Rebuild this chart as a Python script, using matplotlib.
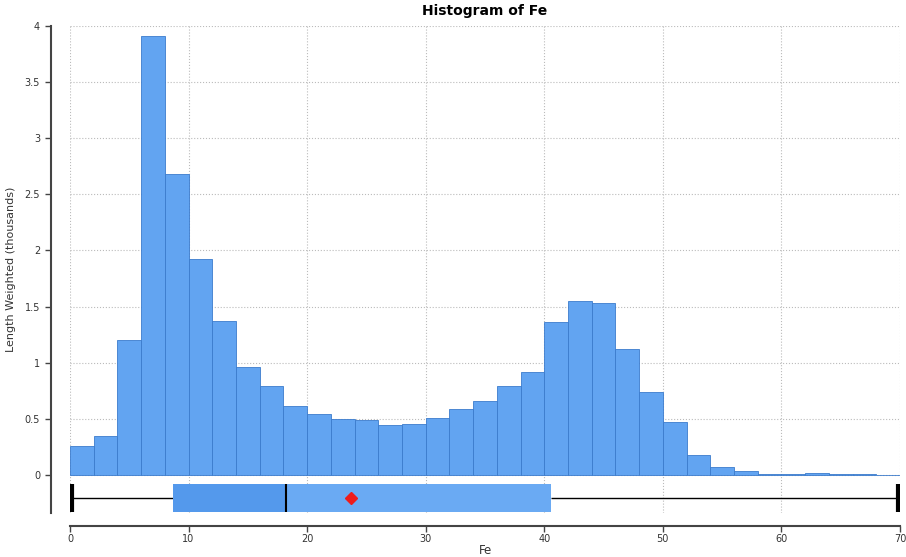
import numpy as np
import matplotlib
matplotlib.use("Agg")
import matplotlib.pyplot as plt

# Histogram data (Fe, bins of width 2, values in thousands)
bin_left = [0, 2, 4, 6, 8, 10, 12, 14, 16, 18, 20, 22, 24, 26, 28, 30, 32, 34,
            36, 38, 40, 42, 44, 46, 48, 50, 52, 54, 56, 58, 60, 62, 64, 66, 68]
bin_width = 2
counts = [0.26, 0.35, 1.20, 3.91, 2.68, 1.92, 1.37, 0.96, 0.79, 0.61, 0.54, 0.50,
          0.49, 0.44, 0.45, 0.51, 0.59, 0.66, 0.79, 0.92, 1.36, 1.55, 1.53, 1.12,
          0.74, 0.47, 0.18, 0.07, 0.03, 0.012, 0.012, 0.015, 0.01, 0.005, 0.003]

# Box plot summary
fe_min = 0.2
fe_q1 = 8.7
fe_median = 18.2
fe_q3 = 40.6
fe_max = 69.8
fe_mean = 23.7

xticks = [0, 10, 20, 30, 40, 50, 60, 70]
yticks = [0, 0.5, 1, 1.5, 2, 2.5, 3, 3.5, 4]
ytick_labels = ["0", "0.5", "1", "1.5", "2", "2.5", "3", "3.5", "4"]

fig = plt.figure(figsize=(9.06, 5.57), dpi=100)
ax = fig.add_axes([70 / 906, 44 / 557, 830 / 906, 487 / 557])

bar_color = "#62a4f1"
edge_color = "#3b7bcc"

ax.bar(bin_left, counts, width=bin_width, align="edge", color=bar_color,
       edgecolor=edge_color, linewidth=0.6, zorder=2)

# Box plot below the histogram
box_y = -0.205
box_h = 0.25
ax.hlines(box_y, fe_min, fe_q1, color="black", linewidth=1, zorder=3)
ax.hlines(box_y, fe_q3, fe_max, color="black", linewidth=1, zorder=3)
ax.barh(box_y, fe_median - fe_q1, left=fe_q1, height=box_h, color="#5499ec", zorder=3)
ax.barh(box_y, fe_q3 - fe_median, left=fe_median, height=box_h, color="#6aaaf3", zorder=3)
ax.vlines(fe_median, box_y - box_h / 2, box_y + box_h / 2, color="black", linewidth=1.5, zorder=4)
ax.vlines([fe_min, fe_max], box_y - box_h / 2, box_y + box_h / 2, color="black", linewidth=3, zorder=4)
ax.plot([fe_mean], [box_y], marker="D", color="#ee1c1c", markersize=6, zorder=5)

ax.set_xlim(0, 70)
ax.set_ylim(-0.34, 4.0)
ax.set_xticks(xticks)
ax.set_yticks(yticks)
ax.set_yticklabels(ytick_labels)

ax.grid(True, linestyle=":", color="#bbbbbb", linewidth=0.8, zorder=0)
ax.set_axisbelow(True)

for side in ["top", "right"]:
    ax.spines[side].set_visible(False)
ax.spines["left"].set_position(("outward", 14))
ax.spines["bottom"].set_position(("outward", 9))
ax.spines["left"].set_color("#444444")
ax.spines["bottom"].set_color("#444444")
ax.spines["left"].set_linewidth(1.5)
ax.spines["bottom"].set_linewidth(1.5)
ax.tick_params(axis="both", labelsize=7, colors="#444444", length=4, width=1)
ax.tick_params(axis="x", pad=2)
ax.tick_params(axis="both", labelcolor="#333333")

ax.set_title("Histogram of Fe", fontsize=10, fontweight="bold", pad=8)
ax.set_xlabel("Fe", fontsize=8.5, color="#333333", labelpad=0)
ax.set_ylabel("Length Weighted (thousands)", fontsize=8, color="#333333", labelpad=6)

fig.savefig("out.png", dpi=100)
